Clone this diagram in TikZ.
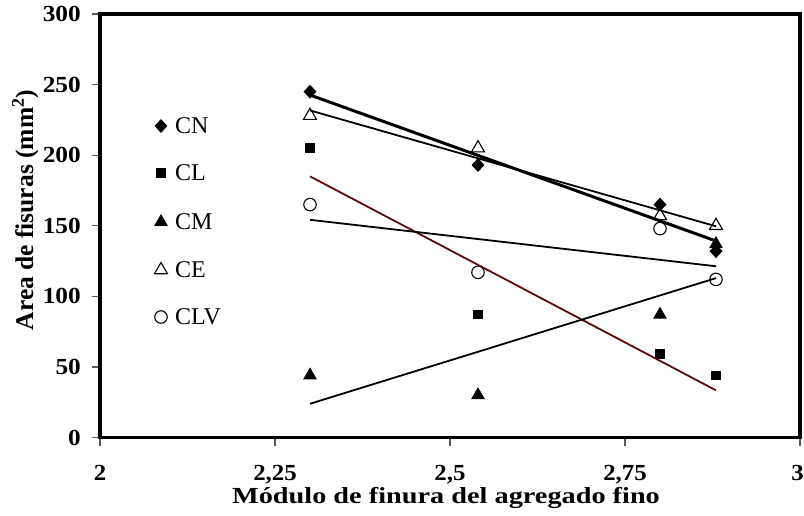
\documentclass[tikz,border=0pt]{standalone}
\usepackage{fontspec}
\setmainfont{Liberation Serif}
\usetikzlibrary{shapes.geometric}
\definecolor{clline}{HTML}{5A0A0A}
\tikzset{
  frame/.style={line width=3.2pt},
  tickmark/.style={line width=1.3pt, black!65},
  ticklab/.style={inner sep=0pt, font=\fontsize{23}{27}\selectfont\bfseries},
  leglab/.style={inner sep=0pt, anchor=base west, font=\fontsize{24}{28}\selectfont},
  mdiamond/.style={diamond, fill=black, inner sep=0pt, minimum width=13pt, minimum height=14pt},
  msquare/.style={rectangle, fill=black, inner sep=0pt, minimum size=9.5pt},
  mtri/.style={regular polygon, regular polygon sides=3, fill=black, inner sep=0pt, minimum size=16pt},
  mtriopen/.style={regular polygon, regular polygon sides=3, draw=black, line width=1.1pt, fill=white, inner sep=0pt, minimum size=15pt},
  mcirc/.style={circle, draw=black, line width=1.1pt, inner sep=0pt, minimum size=12.5pt},
  trend/.style={line width=1.8pt},
  trendthick/.style={line width=3pt}
}
\begin{document}
\begin{tikzpicture}[x=1pt,y=1pt]
\useasboundingbox (0,0) rectangle (804,515);
\fill[white] (0,0) rectangle (804,515);
\begin{scope}[shift={(100pt,77.5pt)}, x=700pt, y=1.41167pt]
  % ticks
  \foreach \yy in {0,50,...,300} \draw[tickmark] (0,\yy) -- ++(-8pt,0);
  \foreach \xx in {0,0.25,0.5,0.75,1} \draw[tickmark] (\xx,0) -- ++(0,-8pt);
  % y tick labels
  \node[ticklab, anchor=east] (yl0) at ([xshift=-19pt]0,0) {\scalebox{1.1}[1]{0}};
  \node[ticklab, anchor=east] (yl50) at ([xshift=-19pt]0,50) {\scalebox{1.1}[1]{50}};
  \node[ticklab, anchor=east] (yl100) at ([xshift=-19pt]0,100) {\scalebox{1.1}[1]{100}};
  \node[ticklab, anchor=east] (yl150) at ([xshift=-19pt]0,150) {\scalebox{1.1}[1]{150}};
  \node[ticklab, anchor=east] (yl200) at ([xshift=-19pt]0,200) {\scalebox{1.1}[1]{200}};
  \node[ticklab, anchor=east] (yl250) at ([xshift=-19pt]0,250) {\scalebox{1.1}[1]{250}};
  \node[ticklab, anchor=east] (yl300) at ([xshift=-19pt]0,300) {\scalebox{1.1}[1]{300}};
  % x tick labels
  \node[ticklab, anchor=north] (xl0) at ([yshift=-28pt]0,0) {\scalebox{1.08}[1]{2}};
  \node[ticklab, anchor=north] (xl1) at ([yshift=-28pt]0.25,0) {\scalebox{1.08}[1]{2,25}};
  \node[ticklab, anchor=north] (xl2) at ([yshift=-28pt]0.5,0) {\scalebox{1.08}[1]{2,5}};
  \node[ticklab, anchor=north] (xl3) at ([yshift=-28pt]0.75,0) {\scalebox{1.08}[1]{2,75}};
  \node[ticklab, anchor=north east] (xl4) at ([yshift=-28pt,xshift=4pt]1,0) {\scalebox{1.08}[1]{3}};
  % markers
  \node[mtri] (cm1) at (0.3,44) {};
  \node[mtri] (cm2) at (0.54,30) {};
  \node[mtri] (cm3) at (0.8,87) {};
  \node[mtri] (cm4) at (0.88,137) {};
  \node[mdiamond] (cn1) at (0.3,245) {};
  \node[mdiamond] (cn2) at (0.54,193) {};
  \node[mdiamond] (cn3) at (0.8,165) {};
  \node[mdiamond] (cn4) at (0.88,132) {};
  \node[msquare] (cl1) at (0.3,205) {};
  \node[msquare] (cl2) at (0.54,87) {};
  \node[msquare] (cl3) at (0.8,59) {};
  \node[msquare] (cl4) at (0.88,44) {};
  \node[mtriopen] (ce1) at (0.3,228) {};
  \node[mtriopen] (ce2) at (0.54,205) {};
  \node[mtriopen] (ce3) at (0.8,157) {};
  \node[mtriopen] (ce4) at (0.88,150) {};
  \node[mcirc] (clv1) at (0.3,165) {};
  \node[mcirc] (clv2) at (0.54,117) {};
  \node[mcirc] (clv3) at (0.8,148) {};
  \node[mcirc] (clv4) at (0.88,112) {};
  % trend lines
  \coordinate (tcna) at (0.3,242.6); \coordinate (tcnb) at (0.88,139.2);
  \coordinate (tcla) at (0.3,185.0); \coordinate (tclb) at (0.88,33.4);
  \coordinate (tcea) at (0.3,231.7); \coordinate (tceb) at (0.88,149.6);
  \coordinate (tclva) at (0.3,154.2); \coordinate (tclvb) at (0.88,121.3);
  \coordinate (tcma) at (0.3,23.9); \coordinate (tcmb) at (0.88,112.9);
  \draw[trend] (tcea) -- (tceb);
  \draw[trendthick] (tcna) -- (tcnb);
  \draw[trend, clline] (tcla) -- (tclb);
  \draw[trend] (tclva) -- (tclvb);
  \draw[trend] (tcma) -- (tcmb);
  % frame
  \draw[frame] (0,0) rectangle (1,300);
\end{scope}
% legend
\node[mdiamond] (lg1) at (161,389) {};
\node[leglab] (lt1) at (175,381) {CN};
\node[msquare] (lg2) at (161,342) {};
\node[leglab] (lt2) at (175,334) {CL};
\node[mtri] (lg3) at (161,293) {};
\node[leglab] (lt3) at (175,285) {CM};
\node[mtriopen] (lg4) at (161,245) {};
\node[leglab] (lt4) at (175,237) {CE};
\node[mcirc] (lg5) at (161,198) {};
\node[leglab] (lt5) at (175,190) {CLV};
% axis titles
\node[inner sep=0pt, anchor=base, font=\fontsize{23}{27}\selectfont\bfseries] (xt) at (446,12) {\scalebox{1.23}[1]{Módulo de finura del agregado fino}};
\node[inner sep=0pt, anchor=base, rotate=90, font=\fontsize{25.5}{30}\selectfont\bfseries] (yt) at (33,305) {Area de fisuras (mm\textsuperscript{2})};
\end{tikzpicture}
\end{document}
